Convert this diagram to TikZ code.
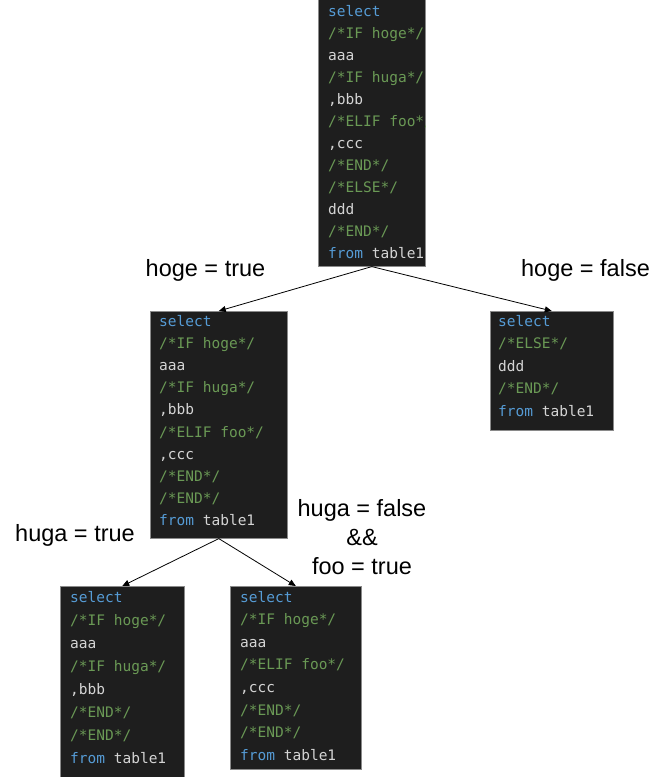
\documentclass[tikz,border=0pt]{standalone}
\usepackage{fontspec}
\setmainfont{Liberation Sans}
\newfontfamily\codefont{DejaVu Sans Mono}
\usetikzlibrary{arrows.meta}
\definecolor{bg}{HTML}{1E1E1E}
\definecolor{kw}{HTML}{569CD6}
\definecolor{cm}{HTML}{6A9955}
\definecolor{tx}{HTML}{D4D4D4}
\definecolor{bd}{HTML}{8A8A8A}
\newcommand\kwd[1]{\textcolor{kw}{#1}}
\tikzset{
  codebox/.style={draw=bd, line width=0.6pt, fill=bg, inner sep=0pt, anchor=north west},
  ln/.style={anchor=base west, inner sep=0pt, font=\codefont\fontsize{14.5}{17}\selectfont, text=tx},
  kl/.style={ln, text=kw},
  cl/.style={ln, text=cm},
  lbl/.style={inner sep=0pt, align=center, font=\fontsize{23.5}{29}\selectfont},
  arr/.style={line width=0.8pt, -{Triangle[length=7pt,width=6pt]}},
}
\begin{document}
\begin{tikzpicture}[x=1pt,y=-1pt]
\useasboundingbox (0,0) rectangle (660,777);
\fill[white] (0,0) rectangle (660,777);
% boxes
\node[codebox, minimum width=107pt, minimum height=268pt] (top) at (318,-2) {};
\node[codebox, minimum width=137pt, minimum height=227pt] (mid) at (150,311) {};
\node[codebox, minimum width=123pt, minimum height=119pt] (rgt) at (490,311) {};
\node[codebox, minimum width=124pt, minimum height=193pt] (bl) at (60,586) {};
\node[codebox, minimum width=131pt, minimum height=183pt] (br) at (230,586) {};
% top box text
\begin{scope}
\clip (top.north west) rectangle (top.south east);
\node[kl] (t0) at (328,16) {select};
\node[cl] (t1) at (328,38) {/*IF hoge*/};
\node[ln] (t2) at (328,60) {aaa};
\node[cl] (t3) at (328,82) {/*IF huga*/};
\node[ln] (t4) at (328,104) {,bbb};
\node[cl] (t5) at (328,126) {/*ELIF foo*/};
\node[ln] (t6) at (328,148) {,ccc};
\node[cl] (t7) at (328,170) {/*END*/};
\node[cl] (t8) at (328,192) {/*ELSE*/};
\node[ln] (t9) at (328,214) {ddd};
\node[cl] (t10) at (328,236) {/*END*/};
\node[ln] (t11) at (328,258) {\kwd{from} table1};
\end{scope}
% mid box text
\node[kl] (m0) at (159,326) {select};
\node[cl] (m1) at (159,348.2) {/*IF hoge*/};
\node[ln] (m2) at (159,370.4) {aaa};
\node[cl] (m3) at (159,392.6) {/*IF huga*/};
\node[ln] (m4) at (159,414.8) {,bbb};
\node[cl] (m5) at (159,437) {/*ELIF foo*/};
\node[ln] (m6) at (159,459.2) {,ccc};
\node[cl] (m7) at (159,481.4) {/*END*/};
\node[cl] (m8) at (159,503.6) {/*END*/};
\node[ln] (m9) at (159,525.8) {\kwd{from} table1};
% right box text
\node[kl] (r0) at (498,326) {select};
\node[cl] (r1) at (498,348.5) {/*ELSE*/};
\node[ln] (r2) at (498,371) {ddd};
\node[cl] (r3) at (498,393.5) {/*END*/};
\node[ln] (r4) at (498,416) {\kwd{from} table1};
% bottom left text
\node[kl] (a0) at (70,602) {select};
\node[cl] (a1) at (70,625) {/*IF hoge*/};
\node[ln] (a2) at (70,648) {aaa};
\node[cl] (a3) at (70,671) {/*IF huga*/};
\node[ln] (a4) at (70,694) {,bbb};
\node[cl] (a5) at (70,717) {/*END*/};
\node[cl] (a6) at (70,740) {/*END*/};
\node[ln] (a7) at (70,763) {\kwd{from} table1};
% bottom right text
\node[kl] (b0) at (240,602) {select};
\node[cl] (b1) at (240,624.6) {/*IF hoge*/};
\node[ln] (b2) at (240,647.2) {aaa};
\node[cl] (b3) at (240,669.8) {/*ELIF foo*/};
\node[ln] (b4) at (240,692.4) {,ccc};
\node[cl] (b5) at (240,715) {/*END*/};
\node[cl] (b6) at (240,737.6) {/*END*/};
\node[ln] (b7) at (240,760.2) {\kwd{from} table1};
% connectors
\draw[arr] (top.south) -- (mid.north);
\draw[arr] (top.south) -- (rgt.north);
\draw[arr] (mid.south) -- (bl.north);
\draw[arr] (mid.south) -- (br.north);
% labels
\node[lbl] (lt) at (205.5,270) {hoge = true};
\node[lbl] (lf) at (585.5,270) {hoge = false};
\node[lbl] (ht) at (75,535) {huga = true};
\node[lbl] (hf) at (362,537) {huga = false\\\&\&\\foo = true};
\end{tikzpicture}
\end{document}
